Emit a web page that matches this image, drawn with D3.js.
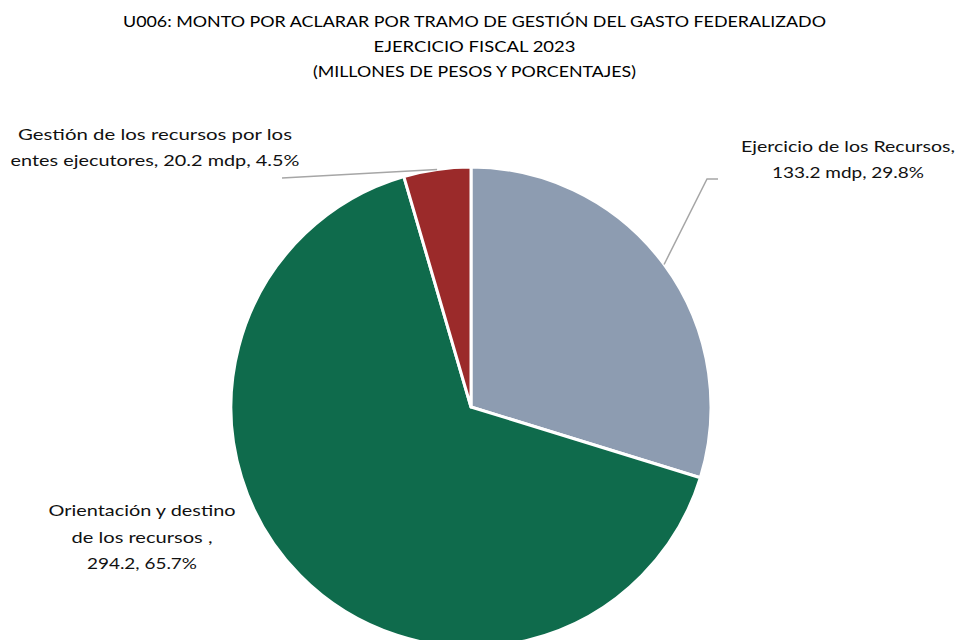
<!DOCTYPE html>
<html><head><meta charset="utf-8">
<script src="https://cdn.jsdelivr.net/npm/d3@7"></script>
<style>body{margin:0;background:#fff}svg{display:block}</style>
</head><body>
<script>
const categories = ["Ejercicio de los Recursos", "Orientación y destino de los recursos", "Gestión de los recursos por los entes ejecutores"];
const values = [133.2, 294.2, 20.2];
const percents = [29.8, 65.7, 4.5];
const colors = ["#8D9CB1", "#0F6B4C", "#9B2A2A"];
const titleLines = ["U006: MONTO POR ACLARAR POR TRAMO DE GESTIÓN DEL GASTO FEDERALIZADO", "EJERCICIO FISCAL 2023", "(MILLONES DE PESOS Y PORCENTAJES)"];
const labelLines = [
  ["Ejercicio de los Recursos,", "133.2 mdp, 29.8%"],
  ["Orientación y destino", "de los recursos ,", "294.2, 65.7%"],
  ["Gestión de los recursos por los", "entes ejecutores, 20.2 mdp, 4.5%"]
];

const W = 958, H = 640;
const svg = d3.select("body").append("svg").attr("width", W).attr("height", H);
const font = "Lato, 'Open Sans', sans-serif";

function fitText(sel, target) {
  const n = sel.node();
  const w = n.getComputedTextLength();
  if (Math.abs(w - target) > 1) sel.attr("textLength", target).attr("lengthAdjust", "spacingAndGlyphs");
}

// title
const titleY = [27, 52, 77];
const titleW = [703, 202, 323];
titleLines.forEach((t, i) => {
  const s = svg.append("text").attr("x", 474.5).attr("y", titleY[i]).attr("text-anchor", "middle")
    .attr("font-family", font).attr("font-size", 16).attr("fill", "#000").text(t);
  fitText(s, titleW[i]);
});

const cx = 471, cy = 407, R = 240;
const pie = d3.pie().sort(null).value(d => d)(values);
const arc = d3.arc().innerRadius(0).outerRadius(R);
const g = svg.append("g").attr("transform", `translate(${cx},${cy})`);
g.selectAll("path").data(pie).join("path")
  .attr("d", arc).attr("fill", (d, i) => colors[i])
  .attr("stroke", "#fff").attr("stroke-width", 3).attr("stroke-linejoin", "round");

// leader lines from slice outer midpoint
function edgePoint(d) {
  const a = (d.startAngle + d.endAngle) / 2;
  return [cx + R * Math.sin(a), cy - R * Math.cos(a)];
}
const p0 = edgePoint(pie[0]);
svg.append("polyline").attr("points", [p0, [707, 179], [718, 179]].map(p => p.join(",")).join(" "))
  .attr("fill", "none").attr("stroke", "#A6A6A6").attr("stroke-width", 1.5);
const p2 = edgePoint(pie[2]);
svg.append("polyline").attr("points", [p2, [282, 178]].map(p => p.join(",")).join(" "))
  .attr("fill", "none").attr("stroke", "#A6A6A6").attr("stroke-width", 1.5);

// labels
const labelPos = [
  {x: 848, y: [152, 178], w: [214, 152]},
  {x: 142, y: [516, 543, 569], w: [187, 141, 110]},
  {x: 155, y: [140, 166], w: [274, 289]}
];
labelLines.forEach((lines, i) => {
  lines.forEach((t, j) => {
    const s = svg.append("text").attr("x", labelPos[i].x).attr("y", labelPos[i].y[j]).attr("text-anchor", "middle")
      .attr("font-family", font).attr("font-size", 16).attr("fill", "#111").text(t);
    fitText(s, labelPos[i].w[j]);
  });
});
</script>
</body></html>
